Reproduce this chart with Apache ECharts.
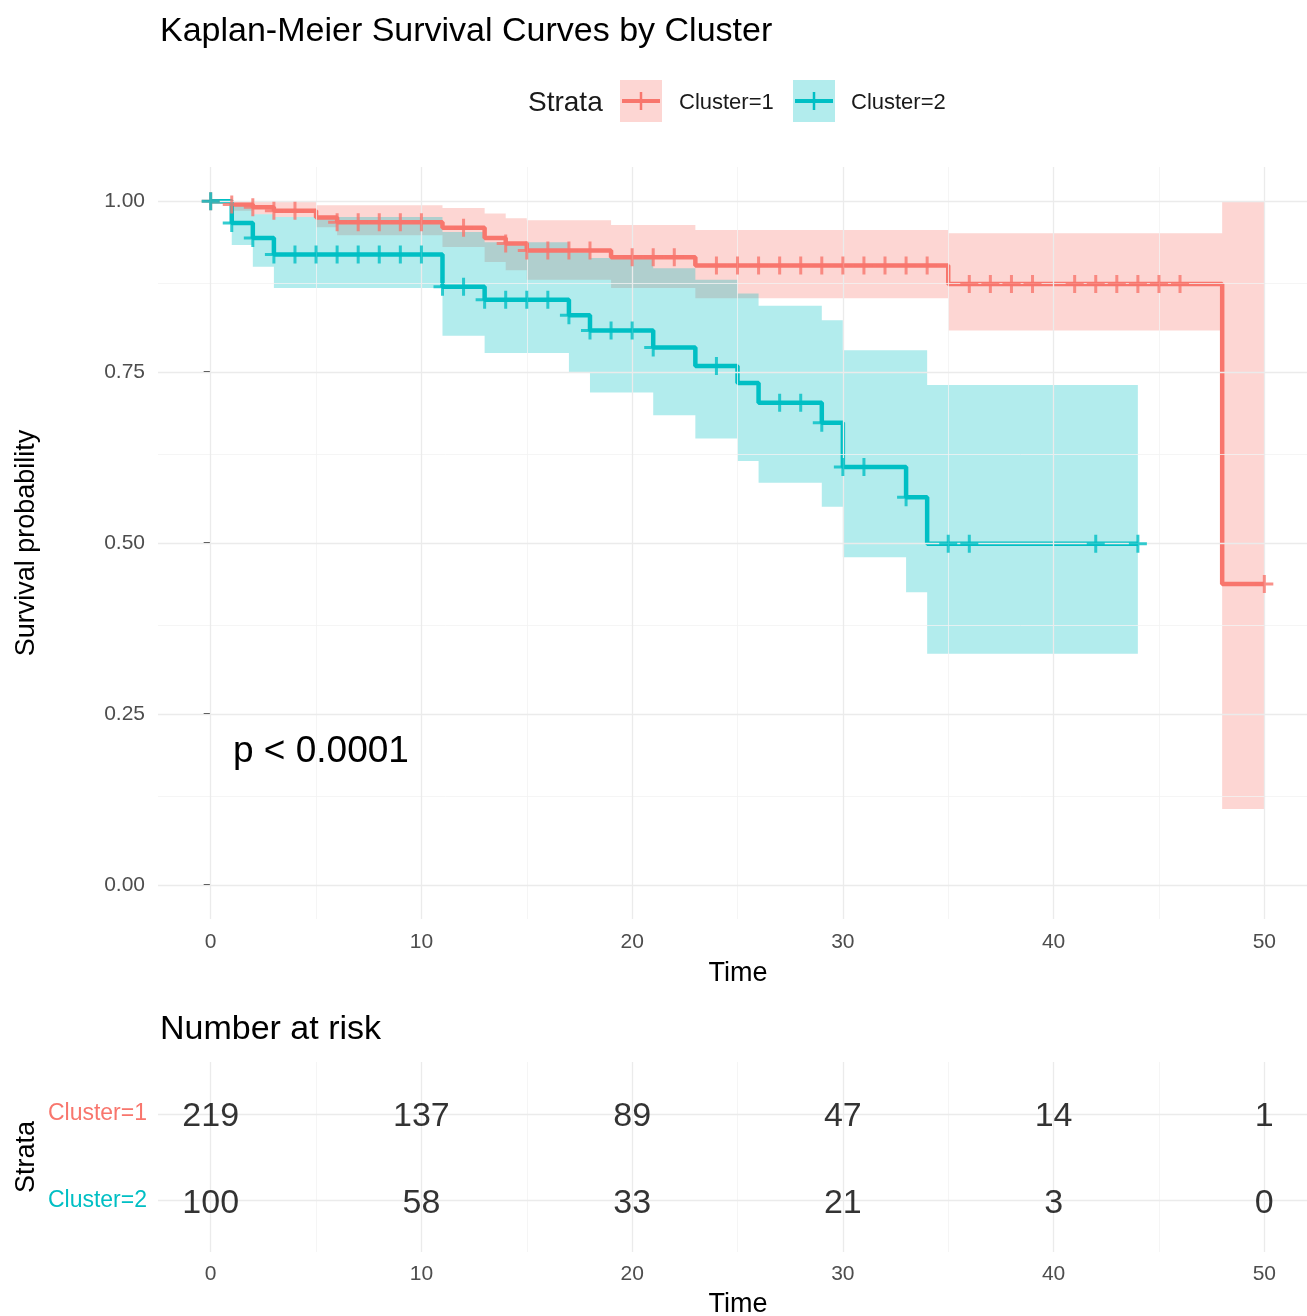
<!DOCTYPE html>
<html>
<head>
<meta charset="utf-8">
<title>Kaplan-Meier Survival Curves by Cluster</title>
<script src="https://cdn.jsdelivr.net/npm/echarts@6/dist/echarts.min.js"></script>
<style>
  html, body { margin: 0; padding: 0; background: #fff; }
  #chart { width: 1307px; height: 1316px; }
</style>
</head>
<body>
<div id="chart"></div>
<script>
// Cluster=1 : step times, survival and confidence band
var times1 = [0, 1, 2, 3, 5, 6, 11, 13, 14, 15, 19, 23, 35, 48, 50];
var surv1  = [1.000, 0.995, 0.991, 0.986, 0.976, 0.969, 0.961, 0.946, 0.938, 0.928, 0.918, 0.906, 0.879, 0.440, 0.440];
var upper1 = [1.000, 1.000, 1.000, 1.000, 0.994, 0.994, 0.990, 0.982, 0.975, 0.972, 0.965, 0.958, 0.953, 1.000, 1.000];
var lower1 = [1.000, 0.986, 0.981, 0.977, 0.962, 0.950, 0.933, 0.911, 0.899, 0.885, 0.873, 0.858, 0.811, 0.111, 0.111];
var cens1  = [0, 1, 2, 3, 4, 6, 7, 8, 9, 10, 12, 14, 15, 16, 17, 18, 20, 21, 22, 24, 25, 26, 27, 28, 29, 30,
              31, 32, 33, 34, 36, 37, 38, 39, 41, 42, 43, 44, 45, 46, 50];

// Cluster=2
var times2 = [0, 1, 2, 3, 11, 13, 17, 18, 21, 23, 25, 26, 29, 30, 33, 34, 44];
var surv2  = [1.000, 0.968, 0.946, 0.922, 0.875, 0.856, 0.833, 0.811, 0.786, 0.759, 0.734, 0.705, 0.676, 0.611, 0.567, 0.499, 0.499];
var upper2 = [1.000, 0.996, 0.981, 0.977, 0.955, 0.940, 0.925, 0.917, 0.902, 0.885, 0.865, 0.847, 0.826, 0.782, 0.782, 0.731, 0.731];
var lower2 = [1.000, 0.936, 0.904, 0.873, 0.803, 0.778, 0.750, 0.720, 0.687, 0.653, 0.620, 0.588, 0.553, 0.479, 0.428, 0.338, 0.338];
var cens2  = [0, 1, 2, 3, 4, 5, 6, 7, 8, 9, 10, 11, 12, 13, 14, 15, 16, 17, 18, 19, 20, 21, 24, 27, 28, 29,
              30, 31, 33, 35, 36, 42, 44];

// number at risk table
var riskTimes = [0, 10, 20, 30, 40, 50];
var risk1 = [219, 137, 89, 47, 14, 1];
var risk2 = [100, 58, 33, 21, 3, 0];

var xTicks = [0, 10, 20, 30, 40, 50];
var yTicks = [0, 0.25, 0.5, 0.75, 1];

var RED = '#F8766D', TEAL = '#00BFC4';
var FONT = '"Liberation Sans", Arial, sans-serif';
var crossPath = 'path://M7.5,0h3v18h-3z M0,7.5h18v3h-18z';

function survAt(times, surv, t) {
  var v = surv[0];
  for (var i = 0; i < times.length; i++) {
    if (times[i] <= t) v = surv[i];
  }
  return v;
}
function pairs(xs, ys) {
  return xs.map(function (x, i) { return [x, ys[i]]; });
}
function mids(ticks) {
  var m = [];
  for (var i = 0; i < ticks.length - 1; i++) m.push((ticks[i] + ticks[i + 1]) / 2);
  return m;
}

// step-shaped confidence band, drawn as one polygon through the axis scales
function bandSeries(times, lo, hi, color) {
  return {
    type: 'custom', xAxisIndex: 0, yAxisIndex: 0, silent: true, z: 2,
    data: times.map(function (t, i) { return [t, lo[i], hi[i]]; }),
    renderItem: function (params, api) {
      if (params.dataIndex !== 0) return null;
      var top = [], bottom = [];
      for (var i = 0; i < times.length; i++) {
        var tNext = i < times.length - 1 ? times[i + 1] : times[i];
        top.push(api.coord([times[i], hi[i]]), api.coord([tNext, hi[i]]));
        bottom.push(api.coord([times[i], lo[i]]), api.coord([tNext, lo[i]]));
      }
      return {
        type: 'polygon',
        shape: { points: top.concat(bottom.reverse()) },
        style: { fill: color, opacity: 0.3 }
      };
    }
  };
}

var major = { color: '#EBEBEB', width: 1.3, type: 'solid' };
var minor = { color: '#F3F3F3', width: 0.8, type: 'solid' };

function gridSeries(idx, xs, ys, withMinorY) {
  var d = [];
  mids(xs).forEach(function (v) { d.push({ xAxis: v, lineStyle: minor }); });
  if (withMinorY) mids(ys).forEach(function (v) { d.push({ yAxis: v, lineStyle: minor }); });
  xs.forEach(function (v) { d.push({ xAxis: v, lineStyle: major }); });
  ys.forEach(function (v) { d.push({ yAxis: v, lineStyle: major }); });
  return {
    type: 'line', xAxisIndex: idx, yAxisIndex: idx, data: [[-100, -100]],
    showSymbol: false, silent: true, lineStyle: { opacity: 0 }, z: 1,
    markLine: { symbol: ['none', 'none'], silent: true, label: { show: false }, animation: false, data: d }
  };
}

function text(x, y, str, size, opts) {
  opts = opts || {};
  return {
    type: 'text', x: x, y: y, rotation: opts.rotation || 0, silent: true,
    style: {
      text: str, fill: opts.color || '#000', font: size + 'px ' + FONT,
      textAlign: opts.align || 'left', textVerticalAlign: 'middle'
    }
  };
}

var chart = echarts.init(document.getElementById('chart'));

chart.setOption({
  animation: false,
  backgroundColor: '#fff',
  grid: [
    { left: 158, top: 167, width: 1159, height: 752, outerBoundsMode: 'none', containLabel: false },
    { left: 158, top: 1062, width: 1159, height: 190, outerBoundsMode: 'none', containLabel: false }
  ],
  xAxis: [
    {
      type: 'value', gridIndex: 0, min: -2.5, max: 52.5,
      axisLine: { show: false }, axisTick: { show: false }, splitLine: { show: false },
      axisLabel: { customValues: xTicks, color: '#4D4D4D', fontSize: 21, margin: 13, fontFamily: FONT }
    },
    {
      type: 'value', gridIndex: 1, min: -2.5, max: 52.5,
      axisLine: { show: false }, axisTick: { show: false }, splitLine: { show: false },
      axisLabel: { customValues: xTicks, color: '#4D4D4D', fontSize: 21, margin: 12, fontFamily: FONT }
    }
  ],
  yAxis: [
    {
      type: 'value', gridIndex: 0, min: -0.05, max: 1.05,
      axisLine: { show: false }, splitLine: { show: false },
      axisTick: { show: true, customValues: yTicks, length: 7, lineStyle: { color: '#333', width: 2 } },
      axisLabel: {
        customValues: yTicks, color: '#4D4D4D', fontSize: 21, margin: 13, fontFamily: FONT,
        formatter: function (v) { return v.toFixed(2); }
      }
    },
    {
      type: 'value', gridIndex: 1, min: 0.4, max: 2.6,
      axisLine: { show: false }, axisTick: { show: false }, splitLine: { show: false },
      axisLabel: {
        customValues: [1, 2], margin: 11, fontFamily: FONT,
        formatter: function (v) { return v === 2 ? '{a|Cluster=1}' : '{b|Cluster=2}'; },
        rich: {
          a: { color: RED, fontSize: 23, fontFamily: FONT },
          b: { color: TEAL, fontSize: 23, fontFamily: FONT }
        }
      }
    }
  ],
  series: [
    gridSeries(0, xTicks, yTicks, true),
    // confidence bands
    bandSeries(times1, lower1, upper1, RED),
    bandSeries(times2, lower2, upper2, TEAL),
    // survival curves
    { type: 'line', name: 'Cluster=1', data: pairs(times1, surv1), step: 'end', showSymbol: false,
      lineStyle: { color: RED, width: 4.5 }, itemStyle: { color: RED }, z: 4 },
    { type: 'line', name: 'Cluster=2', data: pairs(times2, surv2), step: 'end', showSymbol: false,
      lineStyle: { color: TEAL, width: 4.5 }, itemStyle: { color: TEAL }, z: 4 },
    // censor marks
    { type: 'scatter', data: cens1.map(function (t) { return [t, survAt(times1, surv1, t)]; }),
      symbol: crossPath, symbolSize: 18, itemStyle: { color: RED }, z: 5 },
    { type: 'scatter', data: cens2.map(function (t) { return [t, survAt(times2, surv2, t)]; }),
      symbol: crossPath, symbolSize: 18, itemStyle: { color: TEAL }, z: 5 },
    // risk table
    gridSeries(1, xTicks, [1, 2], false),
    {
      type: 'scatter', xAxisIndex: 1, yAxisIndex: 1, symbolSize: 1, itemStyle: { color: 'transparent' },
      data: riskTimes.map(function (t, i) { return [t, 2, risk1[i]]; })
        .concat(riskTimes.map(function (t, i) { return [t, 1, risk2[i]]; })),
      label: {
        show: true, position: 'inside', offset: [0, 3], fontSize: 34, color: '#000', fontFamily: FONT,
        formatter: function (p) { return String(p.value[2]); }
      },
      z: 5
    }
  ],
  graphic: [
    text(160, 32, 'Kaplan-Meier Survival Curves by Cluster', 34),
    text(528, 103, 'Strata', 28, { color: '#1A1A1A' }),
    { type: 'rect', shape: { x: 620, y: 80, width: 42, height: 42 }, style: { fill: RED, opacity: 0.3 }, silent: true },
    { type: 'line', shape: { x1: 622, y1: 101, x2: 660, y2: 101 }, style: { stroke: RED, lineWidth: 4 }, silent: true },
    { type: 'line', shape: { x1: 641, y1: 92, x2: 641, y2: 110 }, style: { stroke: RED, lineWidth: 2.5 }, silent: true },
    text(679, 103, 'Cluster=1', 22, { color: '#1A1A1A' }),
    { type: 'rect', shape: { x: 793, y: 80, width: 42, height: 42 }, style: { fill: TEAL, opacity: 0.3 }, silent: true },
    { type: 'line', shape: { x1: 795, y1: 101, x2: 833, y2: 101 }, style: { stroke: TEAL, lineWidth: 4 }, silent: true },
    { type: 'line', shape: { x1: 814, y1: 92, x2: 814, y2: 110 }, style: { stroke: TEAL, lineWidth: 2.5 }, silent: true },
    text(851, 103, 'Cluster=2', 22, { color: '#1A1A1A' }),
    text(27, 543, 'Survival probability', 27, { align: 'center', rotation: Math.PI / 2 }),
    text(738, 974, 'Time', 27, { align: 'center' }),
    text(233, 752, 'p < 0.0001', 37),
    text(160, 1030, 'Number at risk', 34),
    text(27, 1157, 'Strata', 27, { align: 'center', rotation: Math.PI / 2 }),
    text(738, 1305, 'Time', 27, { align: 'center' })
  ]
});
</script>
</body>
</html>
